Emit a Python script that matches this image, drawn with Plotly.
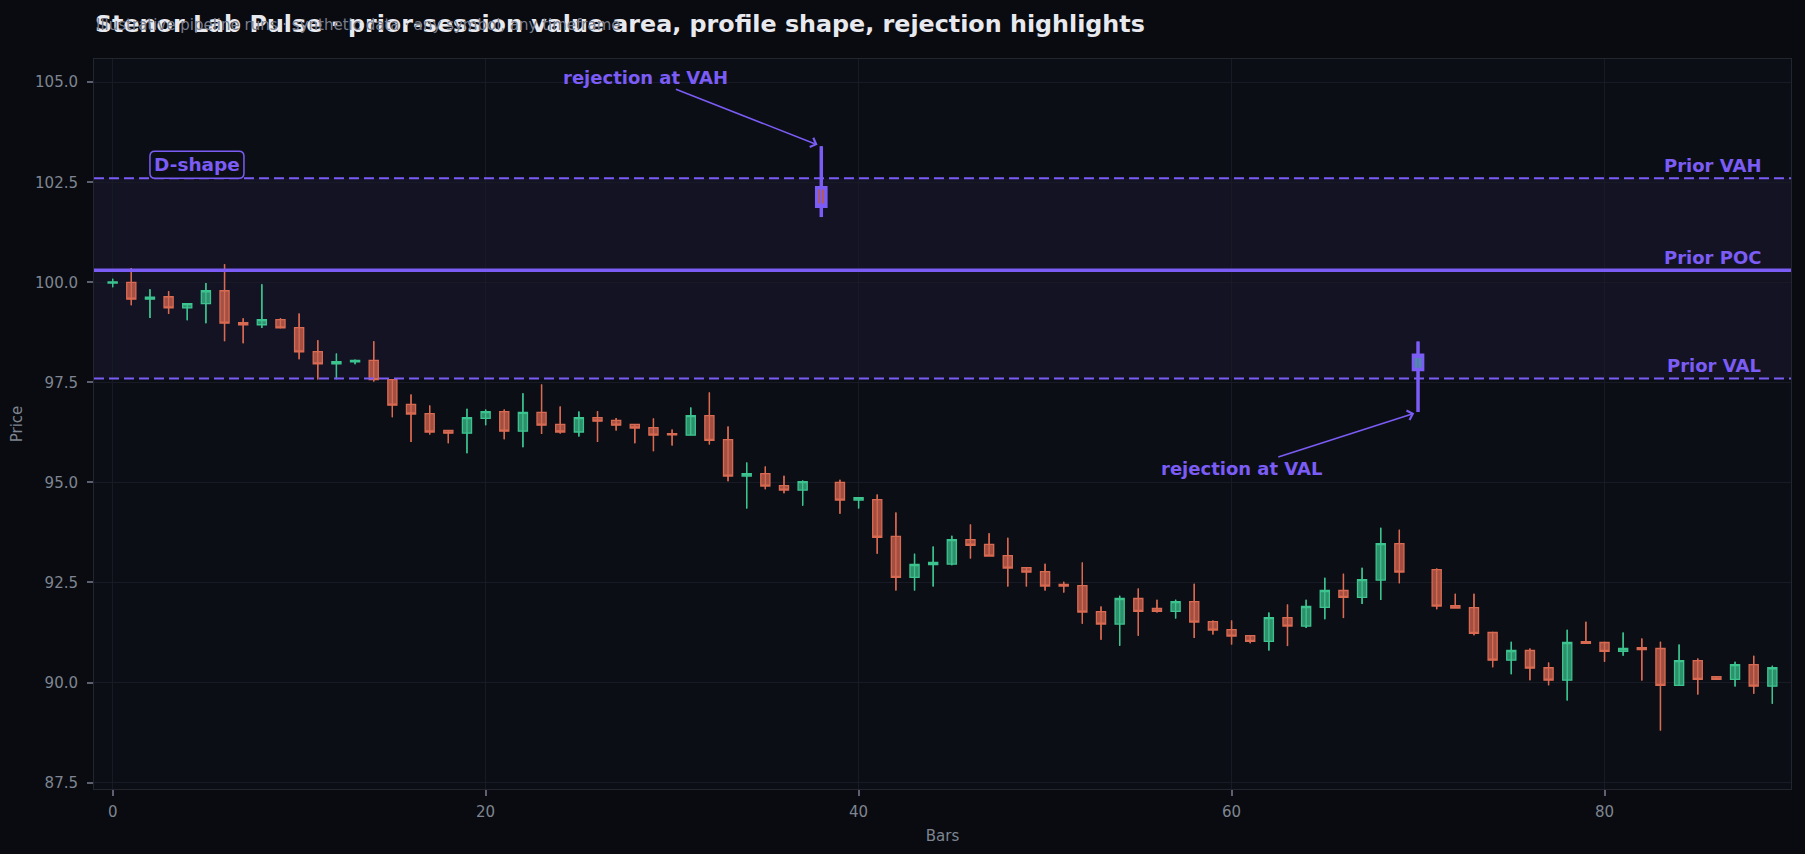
import plotly.graph_objects as go

# ---------------- data ----------------
bars = list(range(90))
opens = [99.98, 100.00, 99.58, 99.64, 99.36, 99.47, 99.79, 98.99, 98.94, 99.07,
         98.87, 98.27, 97.96, 98.01, 98.05, 97.57, 96.95, 96.72, 96.30, 96.23,
         96.60, 96.77, 96.28, 96.75, 96.45, 96.26, 96.62, 96.55, 96.45, 96.37,
         96.22, 96.18, 96.67, 96.07, 95.16, 95.22, 94.92, 94.81, 102.36, 95.00,
         94.56, 94.57, 93.65, 92.63, 92.95, 92.96, 93.57, 93.45, 93.17, 92.87,
         92.77, 92.45, 92.42, 91.77, 91.46, 92.10, 91.85, 91.78, 92.02, 91.52,
         91.32, 91.17, 91.03, 91.62, 91.41, 91.88, 92.30, 92.13, 92.56, 93.47,
         97.82, 92.82, 91.92, 91.87, 91.25, 90.56, 90.80, 90.37, 90.06, 91.02,
         91.00, 90.78, 90.87, 90.85, 89.93, 90.55, 90.15, 90.08, 90.45, 89.91]
highs = [100.09, 100.36, 99.83, 99.78, 99.47, 99.98, 100.45, 99.10, 99.95, 99.10,
         99.22, 98.55, 98.22, 98.07, 98.53, 97.58, 97.20, 96.92, 96.30, 96.84,
         96.82, 96.82, 97.23, 97.45, 96.90, 96.77, 96.78, 96.61, 96.45, 96.60,
         96.32, 96.87, 97.25, 96.40, 95.50, 95.40, 95.17, 95.05, 103.40, 95.07,
         94.62, 94.70, 94.25, 93.22, 93.40, 93.67, 93.95, 93.73, 93.62, 92.87,
         92.97, 92.52, 93.00, 91.90, 92.17, 92.35, 92.07, 92.07, 92.47, 91.55,
         91.55, 91.17, 91.75, 91.95, 92.07, 92.62, 92.72, 92.87, 93.87, 93.82,
         98.52, 92.85, 92.22, 92.22, 91.27, 91.02, 90.85, 90.50, 91.32, 91.52,
         91.02, 91.25, 91.10, 91.02, 90.95, 90.60, 90.16, 90.52, 90.67, 90.42]
lows = [99.88, 99.43, 99.11, 99.21, 99.05, 98.98, 98.53, 98.48, 98.86, 98.85,
        98.08, 97.57, 97.58, 97.95, 97.52, 96.63, 96.01, 96.20, 95.98, 95.73,
        96.43, 96.08, 95.88, 96.21, 96.22, 96.15, 96.01, 96.30, 95.98, 95.78,
        95.92, 96.18, 95.95, 95.03, 94.35, 94.83, 94.73, 94.42, 101.63, 94.22,
        94.35, 93.22, 92.30, 92.30, 92.40, 92.93, 93.10, 93.16, 92.40, 92.40,
        92.30, 92.25, 91.47, 91.07, 90.92, 91.17, 91.75, 91.60, 91.11, 91.20,
        90.95, 90.98, 90.80, 90.91, 91.36, 91.58, 91.61, 91.96, 92.06, 92.48,
        96.76, 91.83, 91.86, 91.18, 90.38, 90.21, 90.06, 89.93, 89.55, 90.96,
        90.52, 90.67, 90.05, 88.80, 89.93, 89.70, 90.07, 89.90, 89.72, 89.47]
closes = [100.01, 99.58, 99.63, 99.36, 99.47, 99.79, 98.98, 98.94, 99.07, 98.86,
          98.26, 97.96, 98.02, 98.05, 97.57, 96.93, 96.71, 96.26, 96.23, 96.62,
          96.77, 96.28, 96.75, 96.43, 96.26, 96.62, 96.53, 96.43, 96.36, 96.18,
          96.19, 96.67, 96.05, 95.16, 95.22, 94.91, 94.81, 95.02, 101.90, 94.56,
          94.62, 93.63, 92.63, 92.95, 93.00, 93.57, 93.43, 93.16, 92.86, 92.76,
          92.41, 92.41, 91.76, 91.46, 92.10, 91.78, 91.78, 92.02, 91.51, 91.31,
          91.16, 91.03, 91.62, 91.41, 91.90, 92.30, 92.13, 92.57, 93.47, 92.76,
          98.18, 91.91, 91.86, 91.23, 90.56, 90.80, 90.36, 90.06, 91.00, 90.98,
          90.78, 90.85, 90.82, 89.93, 90.55, 90.08, 90.08, 90.45, 89.91, 90.37]

prior_vah = 102.6
prior_poc = 100.3
prior_val = 97.6
rejection_bars = [38, 70]
rejection_labels = ["rejection at VAH", "rejection at VAL"]
profile_shape = "D-shape"

title_text = "Stenor Lab Pulse · prior-session value area, profile shape, rejection highlights"
subtitle_text = "Illustrative pipeline runs · synthetic data · any symbol, any timeframe"

# ---------------- style ----------------
PAPER = "#090b10"
PLOT = "#0b0e15"
GRID = "#181b25"
FRAME = "#23262f"
TXT = "#7f8591"
PURPLE = "#7b5cf5"
UP_LINE = "#3cc48f"
UP_FILL = "rgba(56,180,132,0.78)"
DN_LINE = "#d96a52"
DN_FILL = "rgba(205,98,78,0.78)"
FONT = "DejaVu Sans"

base_idx = [i for i in bars if i not in rejection_bars]


def wick_xy(idx_list):
    xs, ys = [], []
    for i in idx_list:
        xs += [bars[i], bars[i], None]
        ys += [lows[i], highs[i], None]
    return xs, ys


fig = go.Figure()

# wicks drawn through the bodies (under the translucent bodies)
up_idx = [i for i in base_idx if closes[i] >= opens[i]]
dn_idx = [i for i in base_idx if closes[i] < opens[i]]
for idx_list, col in [(up_idx, UP_LINE), (dn_idx, DN_LINE)]:
    wx, wy = wick_xy(idx_list)
    fig.add_trace(go.Scatter(x=wx, y=wy, mode="lines", line=dict(color=col, width=1.3),
                             showlegend=False, hoverinfo="skip"))

fig.add_trace(go.Candlestick(
    x=[bars[i] for i in base_idx],
    open=[opens[i] for i in base_idx],
    high=[highs[i] for i in base_idx],
    low=[lows[i] for i in base_idx],
    close=[closes[i] for i in base_idx],
    increasing=dict(line=dict(color=UP_LINE, width=1.3), fillcolor=UP_FILL),
    decreasing=dict(line=dict(color=DN_LINE, width=1.3), fillcolor=DN_FILL),
    showlegend=False, hoverinfo="skip",
))

fig.add_trace(go.Candlestick(
    x=[bars[i] for i in rejection_bars],
    open=[opens[i] for i in rejection_bars],
    high=[highs[i] for i in rejection_bars],
    low=[lows[i] for i in rejection_bars],
    close=[closes[i] for i in rejection_bars],
    increasing=dict(line=dict(color=PURPLE, width=3.5), fillcolor="rgba(56,180,132,0.9)"),
    decreasing=dict(line=dict(color=PURPLE, width=3.5), fillcolor="rgba(205,98,78,0.9)"),
    showlegend=False, hoverinfo="skip",
))
wx, wy = wick_xy(rejection_bars)
fig.add_trace(go.Scatter(x=wx, y=wy, mode="lines", line=dict(color=PURPLE, width=2),
                         showlegend=False, hoverinfo="skip"))

# value-area band and levels
fig.add_shape(type="rect", xref="paper", x0=0, x1=1, yref="y", y0=prior_val, y1=prior_vah,
              fillcolor="rgba(123,92,245,0.07)", line=dict(width=0), layer="below")
for lvl, dash, w in [(prior_vah, "10px,5px", 2), (prior_val, "10px,5px", 2), (prior_poc, "solid", 3.5)]:
    fig.add_shape(type="line", xref="paper", x0=0, x1=1, yref="y", y0=lvl, y1=lvl,
                  line=dict(color=PURPLE, width=w, dash=dash), layer="above")

for lvl, name in [(prior_vah, "Prior VAH"), (prior_poc, "Prior POC"), (prior_val, "Prior VAL")]:
    fig.add_annotation(x=88.5, y=lvl, xref="x", yref="y", text="<b>%s</b>" % name,
                       showarrow=False, xanchor="right", yanchor="bottom",
                       font=dict(family=FONT, size=18, color=PURPLE))

# profile shape tag: rounded box anchored at a data point, sized in pixels
tag_x = 2.0
box_w, box_h, rad = 94, 27, 5
fig.add_shape(type="path", xref="x", yref="y", xsizemode="pixel", ysizemode="pixel",
              xanchor=tag_x, yanchor=prior_vah,
              path=("M{r},0 L{a},0 Q{w},0 {w},{r} L{w},{b} Q{w},{h} {a},{h} "
                    "L{r},{h} Q0,{h} 0,{b} L0,{r} Q0,0 {r},0 Z").format(
                        r=rad, a=box_w - rad, w=box_w, b=box_h - rad, h=box_h),
              line=dict(color=PURPLE, width=1.5), fillcolor=PLOT, layer="above")
fig.add_annotation(x=tag_x, y=prior_vah, xref="x", yref="y", xshift=box_w / 2, yshift=box_h / 2,
                   text="<b>%s</b>" % profile_shape, showarrow=False,
                   xanchor="center", yanchor="middle",
                   font=dict(family=FONT, size=18.5, color=PURPLE))

# rejection arrows
offsets = {38: (-176, -69), 70: (-177, 57)}
for b, lab in zip(rejection_bars, rejection_labels):
    ax, ay = offsets[b]
    yv = highs[b] if ay < 0 else lows[b]
    fig.add_annotation(x=b, y=yv, xref="x", yref="y", text="<b>%s</b>" % lab,
                       showarrow=True, ax=ax, ay=ay, arrowhead=4, arrowsize=1.2,
                       arrowwidth=1.6, arrowcolor=PURPLE, standoff=4,
                       font=dict(family=FONT, size=18, color=PURPLE))

# subtitle (sits behind the title)
fig.add_annotation(x=0, y=1.047, xref="paper", yref="paper", text=subtitle_text,
                   showarrow=False, xanchor="left", yanchor="middle",
                   font=dict(family=FONT, size=15, color="#787d8c"))

fig.update_layout(
    width=1805, height=854,
    paper_bgcolor=PAPER, plot_bgcolor=PLOT,
    margin=dict(l=94, r=14, t=59, b=65),
    font=dict(family=FONT, size=15, color=TXT),
    title=dict(text="<b>%s</b>" % title_text, x=0.0526, xref="container", xanchor="left",
               y=0.972, yref="container", yanchor="middle",
               font=dict(family=FONT, size=23.8, color="#e8e9ef")),
    showlegend=False,
    xaxis=dict(range=[-1, 90], tickvals=[0, 20, 40, 60, 80], showgrid=True, gridcolor=GRID,
               zeroline=False, showline=True, linecolor=FRAME, linewidth=1, mirror=True,
               ticks="outside", ticklen=6, tickcolor="#5c6070", tickwidth=1.5,
               ticklabelstandoff=3,
               tickfont=dict(size=15, color=TXT),
               title=dict(text="Bars", font=dict(size=15, color=TXT), standoff=10),
               rangeslider=dict(visible=False)),
    yaxis=dict(range=[87.34, 105.58], tickvals=[87.5, 90, 92.5, 95, 97.5, 100, 102.5, 105],
               tickformat=".1f", showgrid=True, gridcolor=GRID, zeroline=False,
               showline=True, linecolor=FRAME, linewidth=1, mirror=True,
               ticks="outside", ticklen=6, tickcolor="#5c6070", tickwidth=1.5,
               ticklabelstandoff=6,
               tickfont=dict(size=15, color=TXT),
               title=dict(text="Price", font=dict(size=15, color=TXT), standoff=8)),
)

fig.write_html("out.html", config={"displayModeBar": False},
               post_script="document.body.style.margin='0';"
                           "document.body.style.background='%s';" % PAPER)
